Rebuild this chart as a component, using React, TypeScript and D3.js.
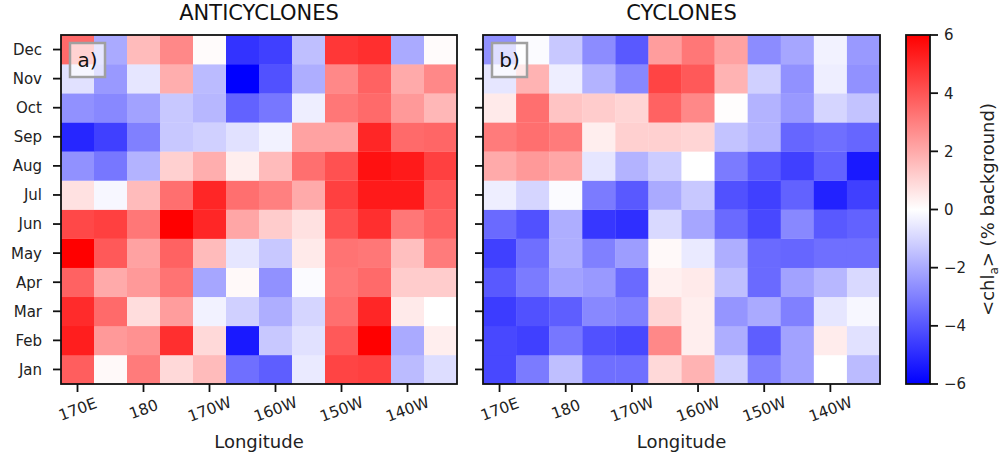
import React, { useEffect, useRef } from "react";
import * as d3 from "d3";

const months = ["Jan", "Feb", "Mar", "Apr", "May", "Jun", "Jul", "Aug", "Sep", "Oct", "Nov", "Dec"];
// column centres, degrees east
const lons = [170, 175, 180, 185, 190, 195, 200, 205, 210, 215, 220, 225];
const lonTicks = [170, 180, 190, 200, 210, 220];
const lonTickLabels = ["170E", "180", "170W", "160W", "150W", "140W"];
const cbarTicks = [6, 4, 2, 0, -2, -4, -6];

// rows Jan..Dec
const anticyclones = [
  [3.8, 0.15, 3.1, 0.9, 1.6, -3.4, -3.8, -0.5, 4.4, 4.5, -1.6, -0.8],
  [5.3, 2.4, 2.6, 4.9, 0.9, -5.4, -1.3, -0.7, 3.9, 6.0, -2.0, 0.4],
  [5.0, 3.5, 0.8, 2.3, -0.3, -1.1, -1.9, -1.0, 3.4, 5.1, 0.5, 0.0],
  [3.7, 2.0, 2.4, 3.3, -2.1, 0.15, -2.6, -0.1, 3.2, 3.5, 1.2, 1.2],
  [6.0, 3.9, 2.2, 3.7, 1.6, -0.6, -1.3, 0.5, 3.3, 3.2, 1.5, 3.1],
  [4.3, 4.5, 3.2, 6.0, 5.1, 2.1, 1.2, 0.7, 4.1, 4.9, 3.2, 3.7],
  [0.7, -0.2, 1.6, 3.4, 5.1, 3.4, 3.0, 2.0, 4.5, 5.4, 5.4, 3.9],
  [-2.6, -3.2, -1.8, 1.1, 1.9, 0.4, 1.6, 3.4, 4.1, 5.6, 5.4, 4.5],
  [-5.1, -4.5, -3.0, -1.3, -1.1, -0.7, -0.3, 2.2, 2.2, 5.1, 3.5, 3.6],
  [-2.6, -2.8, -2.2, -1.3, -1.7, -3.7, -3.2, -0.4, 3.2, 3.5, 2.4, 1.7],
  [-0.7, -2.4, -0.6, 1.9, -1.6, -6.0, -4.1, -1.9, 2.8, 3.7, 2.0, 2.8],
  [3.5, -2.0, 1.6, 2.8, 0.1, -4.8, -4.5, -1.5, 4.7, 4.9, -2.0, 0.1],
];

const cyclones = [
  [-4.3, -3.1, -1.5, -3.4, -3.4, 0.9, 1.8, -1.1, -3.0, -2.2, 0.0, -1.6],
  [-4.3, -4.5, -3.2, -4.1, -4.3, 2.8, 0.4, -1.9, -3.8, -2.2, 0.45, -0.7],
  [-4.6, -4.1, -3.8, -2.8, -3.0, 1.0, 0.4, -2.5, -2.0, -3.0, -0.6, -0.2],
  [-3.9, -3.1, -2.2, -2.4, -3.5, 0.35, 0.5, -1.5, -3.5, -2.2, -1.7, -0.9],
  [-4.5, -3.4, -1.9, -3.0, -2.3, 0.15, -0.5, -1.9, -3.5, -3.6, -3.4, -3.4],
  [-3.5, -4.1, -1.9, -4.7, -4.9, -0.9, -2.1, -3.5, -4.3, -2.8, -3.9, -3.7],
  [-0.4, -1.0, -0.1, -3.1, -3.9, -2.0, -1.3, -4.1, -4.5, -3.7, -5.2, -4.5],
  [2.0, 2.4, 2.1, -0.6, -1.8, -1.2, 0.0, -3.1, -3.9, -4.5, -3.7, -5.4],
  [3.1, 3.4, 3.1, 0.4, 1.1, 1.1, 1.0, -1.4, -1.8, -3.6, -3.4, -3.6],
  [0.5, 3.4, 1.4, 1.2, 1.0, 3.7, 2.8, 0.05, -1.8, -2.4, -1.0, -1.4],
  [-0.6, 1.8, -0.4, -1.8, -2.8, 4.4, 3.9, 1.8, -1.1, -2.6, -0.4, -2.6],
  [-2.6, -0.1, -1.3, -2.7, -3.9, 2.3, 3.2, 2.2, -2.7, -2.1, -0.3, -2.4],
];

const panels = [
  { title: "ANTICYCLONES", tag: "a)", data: anticyclones, x0: 61, x1: 457, labels: true },
  { title: "CYCLONES", tag: "b)", data: cyclones, x0: 483, x1: 880, labels: false },
];

const FONT = "'DejaVu Sans', sans-serif";

export default function App() {
  const ref = useRef<SVGSVGElement>(null);
  useEffect(() => {
    const svg = d3.select(ref.current);
    svg.selectAll("*").remove();
    const top = 35, bottom = 384;
    const color = d3.scaleLinear<string>().domain([-6, 0, 6]).range(["#0000ff", "#ffffff", "#ff0000"]).clamp(true);
    const y = d3.scaleBand<string>().domain([...months].reverse()).range([top, bottom]).padding(0);

    panels.forEach((p) => {
      const x = d3.scaleLinear().domain([167.5, 227.5]).range([p.x0, p.x1]);
      const g = svg.append("g");
      p.data.forEach((row, i) => {
        row.forEach((v, j) => {
          g.append("rect")
            .attr("x", x(lons[j] - 2.5))
            .attr("y", y(months[i])!)
            .attr("width", x(lons[j] + 2.5) - x(lons[j] - 2.5) + 0.3)
            .attr("height", y.bandwidth() + 0.3)
            .attr("fill", color(v));
        });
      });
      g.append("rect").attr("x", p.x0).attr("y", top).attr("width", p.x1 - p.x0).attr("height", bottom - top)
        .attr("fill", "none").attr("stroke", "#111").attr("stroke-width", 1.8);
      // y ticks
      months.forEach((m) => {
        const yy = y(m)! + y.bandwidth() / 2;
        g.append("line").attr("x1", p.x0 - 8).attr("x2", p.x0).attr("y1", yy).attr("y2", yy)
          .attr("stroke", "#111").attr("stroke-width", 1.8);
        if (p.labels) {
          g.append("text").attr("x", p.x0 - 19).attr("y", yy).attr("dy", "0.36em")
            .attr("text-anchor", "end").attr("font-family", FONT).attr("font-size", 15).attr("fill", "#222").text(m);
        }
      });
      // x ticks
      lonTicks.forEach((t, k) => {
        const xx = x(t);
        g.append("line").attr("x1", xx).attr("x2", xx).attr("y1", bottom).attr("y2", bottom + 8)
          .attr("stroke", "#111").attr("stroke-width", 1.8);
        g.append("text").attr("transform", `translate(${xx},${bottom + 25}) rotate(-20)`)
          .attr("text-anchor", "middle").attr("dy", "0.36em").attr("font-family", FONT).attr("font-size", 15.5)
          .attr("fill", "#222").text(lonTickLabels[k]);
      });
      g.append("text").attr("x", (p.x0 + p.x1) / 2).attr("y", 448).attr("text-anchor", "middle")
        .attr("font-family", FONT).attr("font-size", 18).attr("fill", "#222").text("Longitude");
      g.append("text").attr("x", (p.x0 + p.x1) / 2).attr("y", 20).attr("text-anchor", "middle")
        .attr("font-family", FONT).attr("font-size", 21).attr("fill", "#111").text(p.title);
      // panel tag
      g.append("rect").attr("x", p.x0 + 9).attr("y", 43).attr("width", 35).attr("height", 34)
        .attr("fill", "white").attr("fill-opacity", 0.7).attr("stroke", "#a0a0a0").attr("stroke-width", 2.5);
      g.append("text").attr("x", p.x0 + 26.5).attr("y", 67).attr("text-anchor", "middle")
        .attr("font-family", FONT).attr("font-size", 20).attr("fill", "#111").text(p.tag);
    });

    // colorbar
    const cbX0 = 906, cbX1 = 930;
    const cy = d3.scaleLinear().domain([-6, 6]).range([bottom, top]);
    const defs = svg.append("defs");
    const grad = defs.append("linearGradient").attr("id", "cbgrad").attr("x1", 0).attr("y1", 1).attr("x2", 0).attr("y2", 0);
    d3.range(-6, 6.01, 1).forEach((v) => {
      grad.append("stop").attr("offset", `${((v + 6) / 12) * 100}%`).attr("stop-color", color(v));
    });
    svg.append("rect").attr("x", cbX0).attr("y", cy(6)).attr("width", cbX1 - cbX0).attr("height", cy(-6) - cy(6))
      .attr("fill", "url(#cbgrad)").attr("stroke", "#111").attr("stroke-width", 1.8);
    cbarTicks.forEach((t) => {
      const yy = cy(t);
      svg.append("line").attr("x1", cbX1).attr("x2", cbX1 + 8).attr("y1", yy).attr("y2", yy)
        .attr("stroke", "#111").attr("stroke-width", 1.8);
      svg.append("text").attr("x", cbX1 + 14).attr("y", yy).attr("dy", "0.36em").attr("font-family", FONT)
        .attr("font-size", 15).attr("fill", "#222").text(t < 0 ? `\u2212${Math.abs(t)}` : `${t}`);
    });
    const lbl = svg.append("text").attr("transform", `translate(988,${(top + bottom) / 2}) rotate(-90)`)
      .attr("text-anchor", "middle").attr("font-family", FONT).attr("font-size", 18).attr("fill", "#222")
      .attr("dy", "0.36em");
    lbl.append("tspan").text("<chl");
    lbl.append("tspan").attr("font-size", 12).attr("dy", 4).text("a");
    lbl.append("tspan").attr("dy", -4).text("> (% background)");
  }, []);
  return (
    <svg ref={ref} width={1003} height={457}
      style={{ position: "absolute", left: 0, top: 0, background: "white", display: "block" }} />
  );
}
